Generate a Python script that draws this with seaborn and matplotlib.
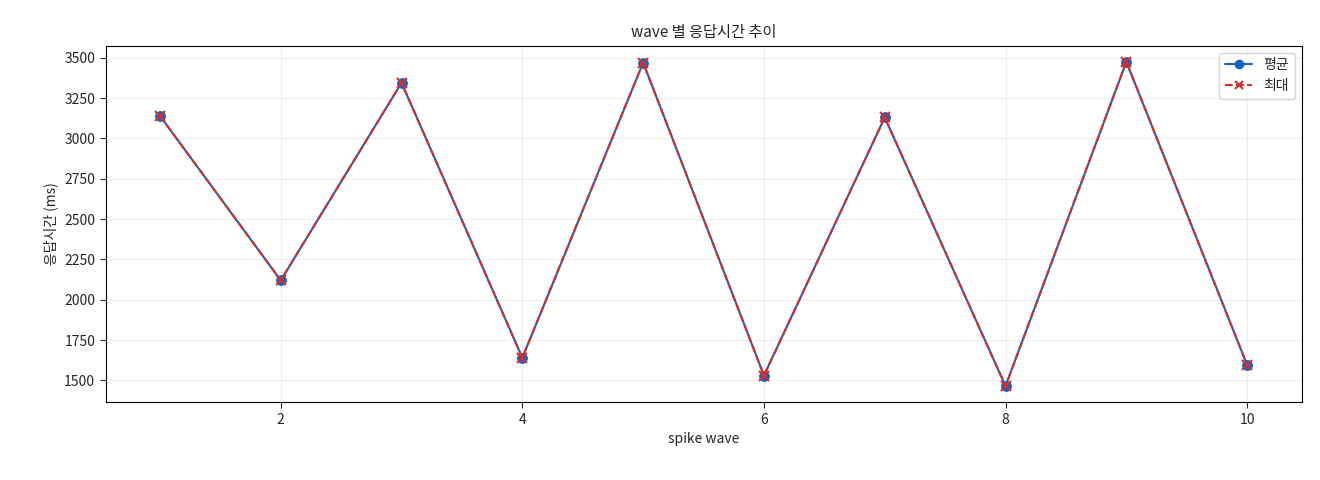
import matplotlib
matplotlib.use("Agg")
import matplotlib.pyplot as plt
from matplotlib.lines import Line2D
import seaborn as sns
import pandas as pd

waves = [1, 2, 3, 4, 5, 6, 7, 8, 9, 10]
avg_ms = [3140, 2120, 3345, 1640, 3470, 1530, 3130, 1465, 3475, 1595]
max_ms = [3140, 2120, 3345, 1640, 3470, 1530, 3130, 1465, 3475, 1595]

sns.set_style("white")
plt.rcParams['font.family'] = ['Noto Sans CJK KR', 'DejaVu Sans']

df = pd.DataFrame({"wave": waves, "avg": avg_ms, "max": max_ms})
fig, ax = plt.subplots(figsize=(13.2, 4.8), dpi=100)
blue, red = "#1565c0", "#d32f2f"
sns.lineplot(data=df, x="wave", y="avg", ax=ax, color=blue, marker="o",
             markersize=7, markeredgecolor=blue, markerfacecolor=blue, linewidth=1.5)
sns.lineplot(data=df, x="wave", y="max", ax=ax, color=red, marker="x",
             markersize=7, markeredgecolor=red, markeredgewidth=1.5, linewidth=1.5)
for l in ax.lines[1:2]:
    l.set_linestyle("--")
handles = [Line2D([], [], color=blue, marker="o", markersize=6, lw=1.5),
           Line2D([], [], color=red, marker="x", markersize=6, lw=1.5, ls="--", mew=1.5)]
ax.legend(handles, ["평균", "최대"], loc="upper right", fontsize=10)
ax.set_title("wave 별 응답시간 추이", fontsize=11)
ax.set_xlabel("spike wave", fontsize=10)
ax.set_ylabel("응답시간 (ms)", fontsize=10)
ax.grid(True, alpha=0.3)
for s in ax.spines.values():
    s.set_color("black")
ax.tick_params(labelsize=10, bottom=True, left=True, length=4)
fig.subplots_adjust(left=0.08, right=0.986, top=0.905, bottom=0.162)
fig.savefig("out.png")
